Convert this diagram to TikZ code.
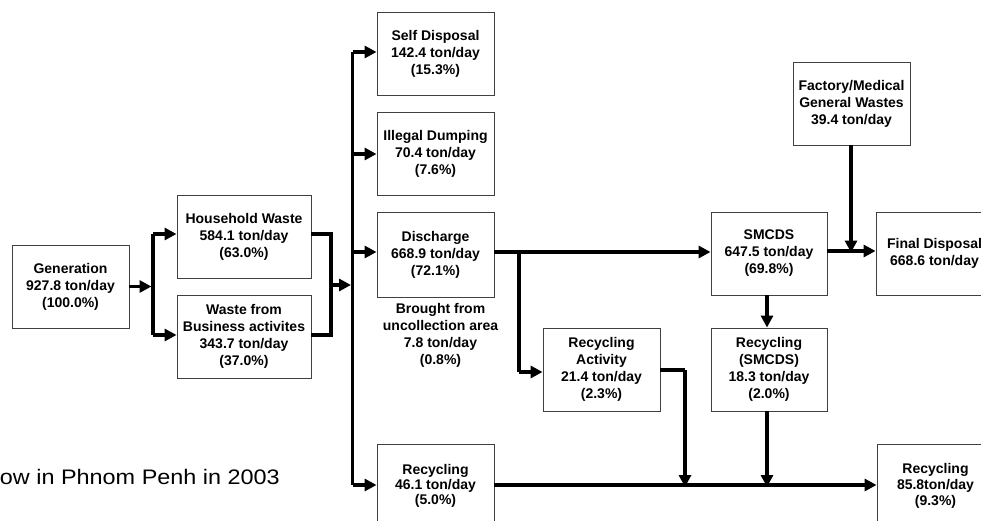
\documentclass[tikz,border=0pt]{standalone}
\usepackage{fontspec}
\setmainfont{Liberation Sans}
\usetikzlibrary{arrows.meta}
\begin{document}
\begin{tikzpicture}[x=1pt,y=-1pt,
  box/.style={draw=black!75, line width=0.9pt, minimum width=117pt, minimum height=83pt,
    align=center, inner sep=0pt, fill=white, font=\fontsize{14}{17}\selectfont\bfseries},
  plain/.style={align=center, inner sep=0pt, font=\fontsize{14}{17}\selectfont\bfseries},
  pipe/.style={line width=3.6pt},
  flow/.style={line width=3.6pt, -{Triangle[length=12pt,width=12pt]}},
]
\useasboundingbox (0,0) rectangle (981,521);
\clip (0,0) rectangle (981,521);

% boxes
\node[box] (gen) at (70.5,286.5) {Generation\\927.8 ton/day\\(100.0\%)};
\node[box, minimum width=134pt] (hh) at (244,236.5) {Household Waste\\584.1 ton/day\\(63.0\%)};
\node[box, minimum width=134pt] (biz) at (244,336.5) {Waste from\\Business activites\\343.7 ton/day\\(37.0\%)};
\node[box] (self) at (435.5,54) {Self Disposal\\142.4 ton/day\\(15.3\%)};
\node[box] (ill) at (435.5,153.5) {Illegal Dumping\\70.4 ton/day\\(7.6\%)};
\node[box, minimum height=85pt] (dis) at (435.5,254.5) {Discharge\\668.9 ton/day\\(72.1\%)};
\node[plain] (brought) at (440.5,335) {Brought from\\uncollection area\\7.8 ton/day\\(0.8\%)};
\node[box, font=\fontsize{14}{15}\selectfont\bfseries] (recl) at (435.5,485.5) {Recycling\\46.1 ton/day\\(5.0\%)};
\node[box] (ract) at (601.5,369.5) {Recycling\\Activity\\21.4 ton/day\\(2.3\%)};
\node[box, minimum width=116pt] (smc) at (769,253.5) {SMCDS\\647.5 ton/day\\(69.8\%)};
\node[box] (fin) at (934.5,253.5) {Final Disposal\\668.6 ton/day};
\node[box] (fac) at (851.5,103.5) {Factory/Medical\\General Wastes\\39.4 ton/day};
\node[box, minimum width=116pt] (rsm) at (769,369.5) {Recycling\\(SMCDS)\\18.3 ton/day\\(2.0\%)};
\node[box, font=\fontsize{14}{16}\selectfont\bfseries] (recr) at (935.5,485.5) {Recycling\\85.8ton/day\\(9.3\%)};

\node[anchor=base east, inner sep=0pt, font=\fontsize{21}{24}\selectfont] (cap) at (280,484) {\scalebox{1.115}[1]{ow in Phnom Penh in 2003}};

% junction coordinates
\coordinate (j1) at (153,286.5);
\coordinate (j1t) at (153,234);
\coordinate (j1b) at (153,335);
\coordinate (j2t) at (331,234);
\coordinate (j2b) at (331,335);
\coordinate (j2m) at (331,285);
\coordinate (bus) at (352.5,285);
\coordinate (bust) at (352.5,52);
\coordinate (busb) at (352.5,485);
\coordinate (dj) at (519,252);
\coordinate (dk) at (519,372);
\coordinate (fj) at (851,251);
\coordinate (rj) at (685,370);
\coordinate (rb) at (685,485);
\coordinate (sb) at (767,485);

% generation split
\draw[flow] (gen.east |- j1) -- ([xshift=-1.5pt]j1);
\draw[pipe] (j1t) -- (j1b);
\draw[flow] (j1t) -- (j1t -| hh.west);
\draw[flow] (j1b) -- (j1b -| biz.west);
% merge
\draw[pipe] (j2t -| hh.east) -- (j2t) -- (j2b) -- (j2b -| biz.east);
\draw[flow] (j2m) -- ([xshift=-1.5pt]bus);
% main bus
\draw[pipe] (bust) -- (busb);
\draw[flow] (bust) -- (bust -| self.west);
\draw[flow] (352.5,154) -- (ill.west |- 0,154);
\draw[flow] (352.5,252) -- (dis.west |- 0,252);
\draw[flow] (busb) -- (busb -| recl.west);
% discharge
\draw[flow] (dis.east |- dj) -- (smc.west |- dj);
\draw[pipe] (dj) -- (dk);
\draw[flow] (dk) -- (dk -| ract.west);
% SMCDS to final disposal
\draw[flow] (smc.east |- fj) -- (fin.west |- fj);
\draw[flow] (fac.south -| fj) -- ([yshift=-1.5pt]fj);
% SMCDS to recycling
\draw[flow] (smc.south -| sb) -- (rsm.north -| sb);
\draw[flow] (rsm.south -| sb) -- ([yshift=-2pt]sb);
% recycling activity
\draw[pipe] (ract.east |- rj) -- (rj);
\draw[flow] (rj) -- ([yshift=-2pt]rb);
% bottom recycling
\draw[flow] (recl.east |- busb) -- (recr.west |- busb);
\end{tikzpicture}
\end{document}
